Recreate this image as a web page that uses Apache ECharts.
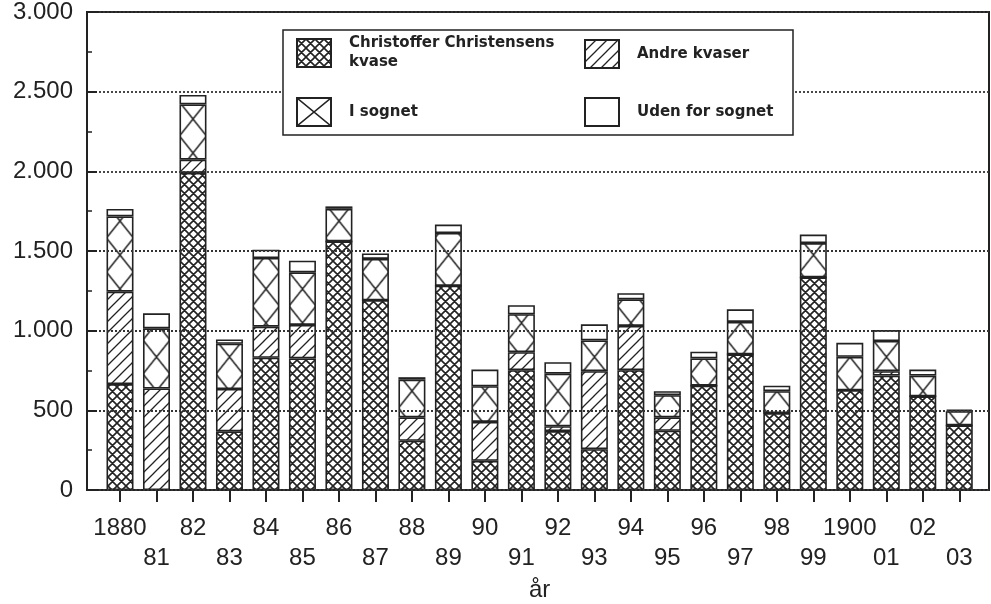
<!DOCTYPE html>
<html>
<head>
<meta charset="utf-8">
<title>Kvaser 1880-1903</title>
<script src="https://cdn.jsdelivr.net/npm/echarts@6/dist/echarts.min.js"></script>
<style>
  html, body { margin: 0; padding: 0; background: #fff; }
  #chart { width: 991px; height: 604px; }
</style>
</head>
<body>
<div id="chart"></div>
<script>
// Years on the category axis (short form as printed)
const years = ['1880', '81', '82', '83', '84', '85', '86', '87', '88', '89', '90', '91',
  '92', '93', '94', '95', '96', '97', '98', '99', '1900', '01', '02', '03'];

// Stacked values, bottom to top
const christensen = [665, 0, 1990, 368, 830, 826, 1560, 1191, 309, 1282, 183, 752,
  370, 256, 752, 372, 655, 851, 483, 1334, 626, 718, 588, 405];
const andreKvaser = [580, 637, 83, 266, 195, 210, 0, 0, 147, 0, 244, 113,
  30, 490, 278, 84, 0, 0, 0, 0, 0, 28, 0, 0];
const iSognet = [472, 378, 347, 284, 431, 330, 205, 259, 237, 331, 224, 238,
  330, 193, 167, 139, 171, 204, 137, 216, 210, 189, 130, 90];
const udenForSognet = [47, 94, 59, 27, 52, 73, 15, 35, 15, 53, 105, 57,
  72, 101, 38, 25, 42, 79, 35, 53, 88, 69, 38, 10];

const yTicks = [0, 500, 1000, 1500, 2000, 2500, 3000];

const INK = '#222';
const FONT = 'Liberation Sans';
const LEGEND_FONT = 'DejaVu Sans';

// Bar grid geometry (category band = 36.49px)
const BAR_LEFT = 101.755;
const BAR_RIGHT = 13.485;
const BAND = (991 - BAR_LEFT - BAR_RIGHT) / years.length;
const BAR_W = 27;

/**
 * Build a small canvas tile for hatch fills
 */
function makeTile(w, h, lineWidth, draw) {
  const c = document.createElement('canvas');
  c.width = Math.ceil(w);
  c.height = Math.ceil(h);
  const ctx = c.getContext('2d');
  ctx.fillStyle = '#fff';
  ctx.fillRect(0, 0, c.width, c.height);
  ctx.strokeStyle = INK;
  ctx.lineWidth = lineWidth;
  ctx.beginPath();
  draw(ctx);
  ctx.stroke();
  return c;
}

// dense cross hatch
const crossTile = makeTile(9, 9, 1.6, ctx => {
  for (let k = -1; k <= 1; k++) {
    ctx.moveTo(k * 9 - 1, -1); ctx.lineTo(k * 9 + 10, 10);
    ctx.moveTo(k * 9 - 1, 10); ctx.lineTo(k * 9 + 10, -1);
  }
});

// diagonal "/" lines
const diagTile = makeTile(11, 11, 1.3, ctx => {
  for (let k = -1; k <= 1; k++) {
    ctx.moveTo(k * 11 - 1, 12); ctx.lineTo(k * 11 + 12, -1);
  }
});

// big X per bar, two bands per tile so the X lines up with each bar
const xTile = makeTile(2 * BAND, 34, 1.5, ctx => {
  [0, BAND].forEach(a => {
    ctx.moveTo(a, 0); ctx.lineTo(a + BAR_W, 34);
    ctx.moveTo(a, 34); ctx.lineTo(a + BAR_W, 0);
  });
});
const xIconTile = makeTile(34, 28, 1.5, ctx => {
  ctx.moveTo(0, 0); ctx.lineTo(34, 28);
  ctx.moveTo(0, 28); ctx.lineTo(34, 0);
});

const firstBarLeft = BAR_LEFT + BAND / 2 - BAR_W / 2;

const fills = {
  cc: { image: crossTile, repeat: 'repeat' },
  andre: { image: diagTile, repeat: 'repeat' },
  sogn: { image: xTile, repeat: 'repeat', x: firstBarLeft, y: 0 },
  uden: '#fff',
};

function fmtThousands(v) {
  return v >= 1000 ? Math.floor(v / 1000) + '.' + String(v % 1000).padStart(3, '0') : String(v);
}

function barSeries(name, data, color) {
  return {
    name,
    type: 'bar',
    stack: 'total',
    xAxisIndex: 1,
    yAxisIndex: 1,
    barWidth: BAR_W,
    data,
    itemStyle: { color, borderColor: INK, borderWidth: 1.6 },
    emphasis: { disabled: true },
  };
}

const SERIES_NAMES = ['Christoffer Christensens kvase', 'Andre kvaser', 'I sognet', 'Uden for sognet'];

function legendAt(left, top, item) {
  return {
    left, top,
    orient: 'horizontal',
    padding: 0,
    itemWidth: 34,
    itemHeight: 28,
    icon: 'rect',
    selectedMode: false,
    z: 6,
    data: [item],
    formatter: n => (n === SERIES_NAMES[0] ? 'Christoffer Christensens\nkvase' : n),
    textStyle: {
      fontFamily: LEGEND_FONT, fontSize: 15, fontWeight: 'bold', color: INK,
      lineHeight: 19, padding: [0, 0, 0, 13],
    },
  };
}

const chart = echarts.init(document.getElementById('chart'), null, { renderer: 'canvas' });

chart.setOption({
  animation: false,
  backgroundColor: '#fff',
  textStyle: { fontFamily: FONT },
  grid: [
    {
      left: 87, right: 2, top: 12, bottom: 114, outerBoundsMode: 'none',
      show: true, borderColor: INK, borderWidth: 2,
    },
    { left: BAR_LEFT, right: BAR_RIGHT, top: 12, bottom: 114, outerBoundsMode: 'none' },
  ],
  xAxis: [
    { gridIndex: 0, type: 'value', min: 0, max: 1, show: false },
    {
      gridIndex: 1,
      type: 'category',
      data: years,
      axisLine: { show: false },
      axisTick: { show: true, alignWithLabel: true, length: 12, lineStyle: { color: INK, width: 2 } },
      axisLabel: {
        interval: 0, margin: 23, lineHeight: 30, fontSize: 24, color: INK,
        formatter: (v, i) => (i % 2 ? '\n' + v : v),
      },
      name: 'år',
      nameLocation: 'middle',
      nameGap: 88,
      nameTextStyle: { fontSize: 24, color: INK },
    },
  ],
  yAxis: [
    {
      gridIndex: 0,
      type: 'value',
      min: yTicks[0],
      max: yTicks[yTicks.length - 1],
      interval: 500,
      z: 3,
      axisLine: { show: true, lineStyle: { color: INK, width: 2 } },
      axisTick: { show: true, inside: true, length: 10, lineStyle: { color: INK, width: 2 } },
      minorTick: { show: true, splitNumber: 2, length: 5, lineStyle: { color: INK, width: 1.5 } },
      axisLabel: { margin: 14, fontSize: 24, color: INK, formatter: fmtThousands },
      splitLine: { show: true, lineStyle: { type: [2, 2], color: '#333', width: 1.8 } },
    },
    { gridIndex: 1, type: 'value', min: 0, max: 3000, show: false },
  ],
  graphic: [{
    type: 'rect',
    z: 5,
    shape: { x: 283, y: 30, width: 510, height: 105 },
    style: { fill: '#fff', stroke: INK, lineWidth: 1.5 },
  }],
  legend: [
    legendAt(296, 34, { name: SERIES_NAMES[0] }),
    legendAt(584, 39, { name: SERIES_NAMES[1] }),
    legendAt(296, 97, { name: SERIES_NAMES[2], itemStyle: { color: { image: xIconTile, repeat: 'no-repeat' } } }),
    legendAt(584, 97, { name: SERIES_NAMES[3] }),
  ],
  series: [
    barSeries(SERIES_NAMES[0], christensen, fills.cc),
    barSeries(SERIES_NAMES[1], andreKvaser, fills.andre),
    barSeries(SERIES_NAMES[2], iSognet, fills.sogn),
    barSeries(SERIES_NAMES[3], udenForSognet, fills.uden),
  ],
});
</script>
</body>
</html>
